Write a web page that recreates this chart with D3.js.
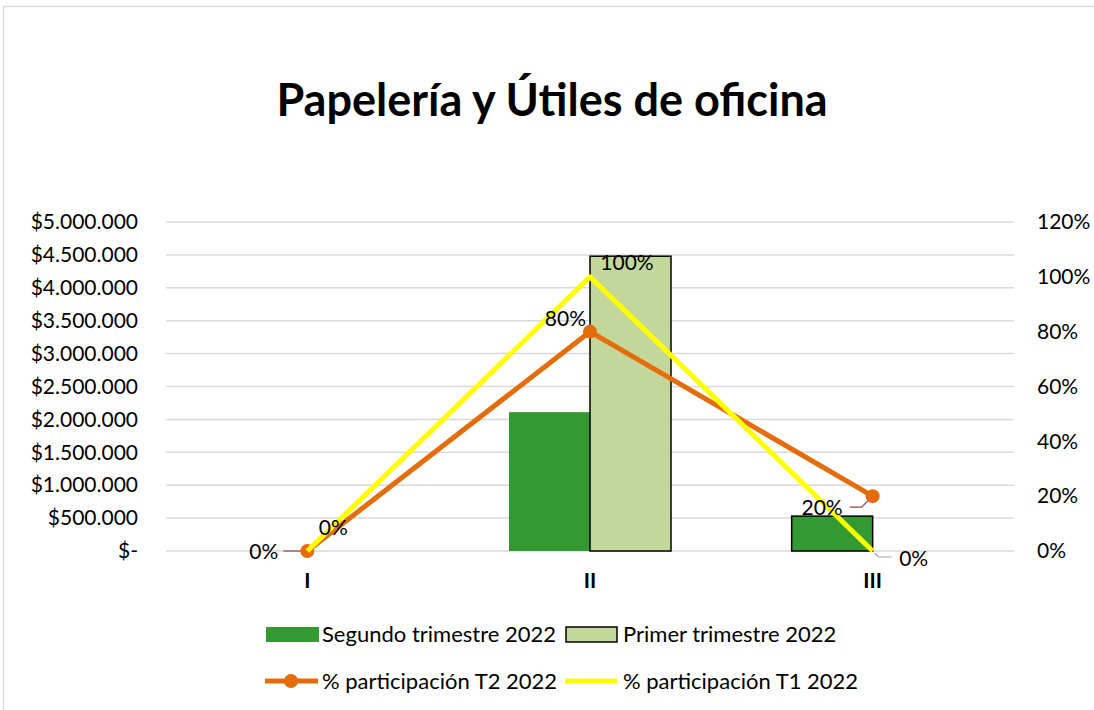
<!DOCTYPE html>
<html>
<head>
<meta charset="utf-8">
<script src="https://cdn.jsdelivr.net/npm/d3@7"></script>
<style>
  body { margin: 0; background: #fff; }
  svg { display: block; font-family: Lato, "Open Sans", sans-serif; }
</style>
</head>
<body>
<script>
'use strict';

var categories = ['I', 'II', 'III'];
var segundo = [0, 2110000, 530000];   // Segundo trimestre 2022
var primero = [0, 4480000, 0];        // Primer trimestre 2022
var partT2 = [0, 0.8, 0.2];           // % participación T2 2022
var partT1 = [0, 1, 0];               // % participación T1 2022
var leftTicks = d3.range(0, 5000001, 500000);
var rightTicks = [0, 0.2, 0.4, 0.6, 0.8, 1, 1.2];

draw();

function draw() {
  var width = 1094, height = 710;
  var pLeft = 166, pRight = 1014, pTop = 222, pBottom = 551;

  var svg = d3.select('body').append('svg')
    .attr('width', width)
    .attr('height', height);

  // chart frame
  svg.append('rect')
    .attr('x', 3.5).attr('y', 6.5)
    .attr('width', width + 10).attr('height', height + 10)
    .attr('fill', 'none').attr('stroke', '#d9d9d9').attr('stroke-width', 1.5);

  svg.append('text')
    .attr('x', 552).attr('y', 116)
    .attr('text-anchor', 'middle')
    .attr('font-size', 45).attr('font-weight', 'bold')
    .attr('fill', '#000')
    .text('Papelería y Útiles de oficina');

  var x = d3.scaleBand().domain(categories).range([pLeft, pRight]);
  var x1 = d3.scaleBand().domain(['s', 'p']).range([0, 162]);
  var y = d3.scaleLinear().domain([0, 5000000]).range([pBottom, pTop]);
  var y2 = d3.scaleLinear().domain([0, 1.2]).range([pBottom, pTop]);

  var fmtMoney = function(v) {
    if (v === 0) return '$-';
    return '$' + d3.format(',')(v).replace(/,/g, '.');
  };

  // gridlines
  svg.append('g').selectAll('line').data(leftTicks).enter().append('line')
    .attr('x1', pLeft).attr('x2', pRight)
    .attr('y1', function(d) { return y(d); })
    .attr('y2', function(d) { return y(d); })
    .attr('stroke', '#d9d9d9').attr('stroke-width', 1.5);

  // left axis
  var gl = svg.append('g').attr('transform', 'translate(' + (pLeft - 28) + ',0)')
    .call(d3.axisLeft(y).tickValues(leftTicks).tickFormat(fmtMoney).tickSize(0).tickPadding(0));
  gl.select('.domain').remove();
  gl.selectAll('text').attr('font-size', 21).attr('fill', '#000').attr('font-family', 'Lato, sans-serif');

  // right axis
  var gr = svg.append('g').attr('transform', 'translate(' + (pRight + 23) + ',0)')
    .call(d3.axisRight(y2).tickValues(rightTicks).tickFormat(d3.format('.0%')).tickSize(0).tickPadding(0));
  gr.select('.domain').remove();
  gr.selectAll('text').attr('font-size', 21).attr('fill', '#000').attr('font-family', 'Lato, sans-serif');

  // category axis
  var gx = svg.append('g').attr('transform', 'translate(0,' + (pBottom + 22) + ')')
    .call(d3.axisBottom(x).tickSize(0).tickPadding(0));
  gx.select('.domain').remove();
  gx.selectAll('text').attr('font-size', 21).attr('font-weight', 'bold')
    .attr('fill', '#000').attr('font-family', 'Lato, sans-serif');

  var groupOffset = (x.bandwidth() - 162) / 2;

  // bars
  var bars = svg.append('g');
  bars.selectAll('rect.s').data(segundo).enter().append('rect')
    .attr('class', 's')
    .attr('x', function(d, i) { return x(categories[i]) + groupOffset + x1('s'); })
    .attr('width', x1.bandwidth())
    .attr('y', function(d) { return y(d); })
    .attr('height', function(d) { return pBottom - y(d); })
    .attr('fill', '#339933')
    .attr('stroke', function(d, i) { return i === 2 ? '#000' : 'none'; })
    .attr('stroke-width', 1.5);

  bars.selectAll('rect.p').data(primero).enter().append('rect')
    .attr('class', 'p')
    .attr('x', function(d, i) { return x(categories[i]) + groupOffset + x1('p'); })
    .attr('width', x1.bandwidth())
    .attr('y', function(d) { return y(d); })
    .attr('height', function(d) { return pBottom - y(d); })
    .attr('fill', '#c4d79b')
    .attr('stroke', function(d) { return d > 0 ? '#000' : 'none'; })
    .attr('stroke-width', 1.5);

  var cx = function(d, i) { return x(categories[i]) + x.bandwidth() / 2; };

  var line = d3.line()
    .x(function(d, i) { return cx(d, i); })
    .y(function(d) { return y2(d); });

  // leader lines
  var c0 = cx(0, 0), c2 = cx(0, 2);
  svg.append('path')
    .attr('d', 'M' + (c0 - 24) + ',' + y2(0) + 'H' + (c0 - 4))
    .attr('stroke', '#a0403f').attr('stroke-width', 1.2).attr('fill', 'none');
  svg.append('path')
    .attr('d', 'M' + (c2 - 23) + ',' + (y2(0.2) + 11) + 'H' + (c2 - 11) + 'L' + (c2 - 4) + ',' + (y2(0.2) + 4))
    .attr('stroke', '#a0403f').attr('stroke-width', 1.2).attr('fill', 'none');
  svg.append('path')
    .attr('d', 'M' + (c2 + 2) + ',' + (y2(0) + 2) + 'L' + (c2 + 6) + ',' + (y2(0) + 6) + 'H' + (c2 + 19))
    .attr('stroke', '#a6a6a6').attr('stroke-width', 1.2).attr('fill', 'none');

  svg.append('path').datum(partT2)
    .attr('d', line)
    .attr('fill', 'none').attr('stroke', '#e46c0a').attr('stroke-width', 5)
    .attr('stroke-linejoin', 'round');

  svg.append('g').selectAll('circle').data(partT2).enter().append('circle')
    .attr('cx', cx)
    .attr('cy', function(d) { return y2(d); })
    .attr('r', 7)
    .attr('fill', '#e46c0a');

  svg.append('path').datum(partT1)
    .attr('d', line)
    .attr('fill', 'none').attr('stroke', '#ffff00').attr('stroke-width', 5)
    .attr('stroke-linejoin', 'round');

  // data labels: [dx, dy, anchor]
  var pct = d3.format('.0%');
  var labelsT2 = [[-29, 8, 'end'], [-4, -6, 'end'], [-30, 19, 'end']];
  var labelsT1 = [[26, -16, 'middle'], [37, -7, 'middle'], [41, 15, 'middle']];

  svg.append('g').selectAll('text').data(partT2).enter().append('text')
    .attr('x', function(d, i) { return cx(d, i) + labelsT2[i][0]; })
    .attr('y', function(d, i) { return y2(d) + labelsT2[i][1]; })
    .attr('text-anchor', function(d, i) { return labelsT2[i][2]; })
    .attr('font-size', 21).attr('fill', '#000')
    .text(pct);

  svg.append('g').selectAll('text').data(partT1).enter().append('text')
    .attr('x', function(d, i) { return cx(d, i) + labelsT1[i][0]; })
    .attr('y', function(d, i) { return y2(d) + labelsT1[i][1]; })
    .attr('text-anchor', function(d, i) { return labelsT1[i][2]; })
    .attr('font-size', 21).attr('fill', '#000')
    .text(pct);

  // legend
  var lg = svg.append('g').attr('font-size', 22).attr('fill', '#000');
  lg.append('rect').attr('x', 266).attr('y', 627).attr('width', 53).attr('height', 15).attr('fill', '#339933');
  lg.append('text').attr('x', 322).attr('y', 642).text('Segundo trimestre 2022');
  lg.append('rect').attr('x', 566).attr('y', 627).attr('width', 51).attr('height', 15)
    .attr('fill', '#c4d79b').attr('stroke', '#000').attr('stroke-width', 1.5);
  lg.append('text').attr('x', 623).attr('y', 642).text('Primer trimestre 2022');

  lg.append('line').attr('x1', 265).attr('x2', 318).attr('y1', 681).attr('y2', 681)
    .attr('stroke', '#e46c0a').attr('stroke-width', 5);
  lg.append('circle').attr('cx', 291).attr('cy', 681).attr('r', 7).attr('fill', '#e46c0a');
  lg.append('text').attr('x', 322).attr('y', 689).text('% participación T2 2022');
  lg.append('line').attr('x1', 565).attr('x2', 617).attr('y1', 681).attr('y2', 681)
    .attr('stroke', '#ffff00').attr('stroke-width', 5);
  lg.append('text').attr('x', 623).attr('y', 689).text('% participación T1 2022');
}
</script>
</body>
</html>
